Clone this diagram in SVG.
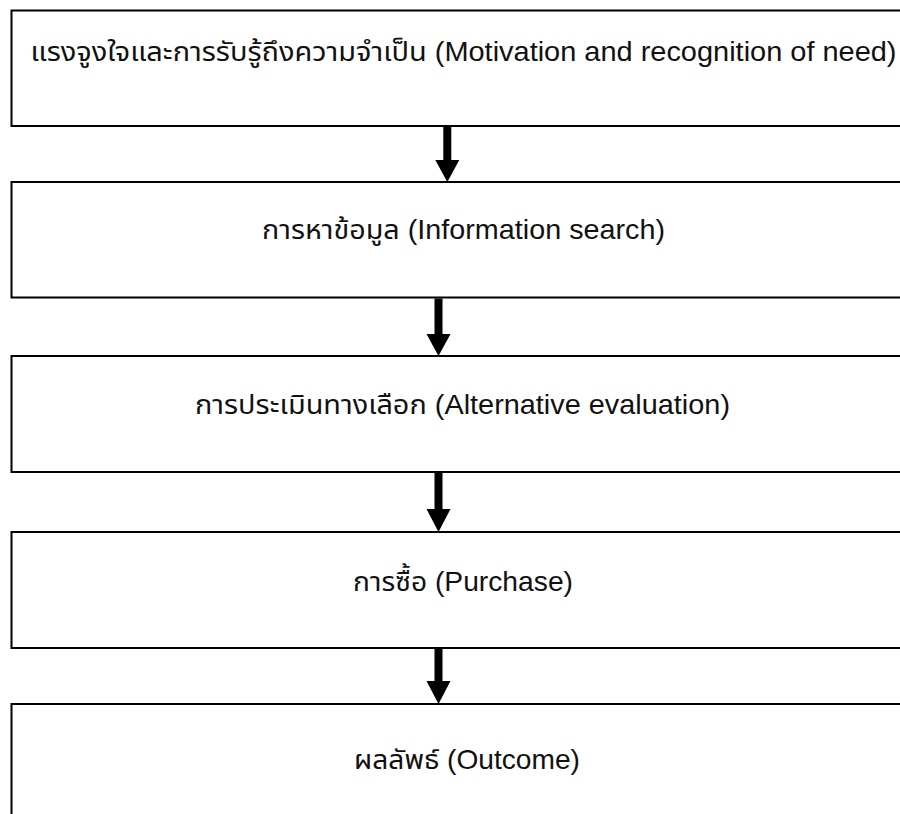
<svg xmlns="http://www.w3.org/2000/svg" width="900" height="814" viewBox="0 0 900 814">
<style>
.box{fill:#fff;stroke:#000;stroke-width:2}
.lbl{font-family:"Liberation Sans","Noto Sans","Noto Sans Thai",sans-serif;font-size:27.5px;fill:#111;text-anchor:middle}
.arr{fill:#000;stroke:none}
</style>
<rect width="900" height="814" fill="#fff"/>
<g id="node1"><rect class="box" x="11.5" y="10.5" width="910" height="115.5"/><text class="lbl" x="463.5" y="61" textLength="866" lengthAdjust="spacingAndGlyphs">แรงจูงใจและการรับรู้ถึงความจำเป็น (Motivation and recognition of need)</text></g>
<g id="node2"><rect class="box" x="11.5" y="182" width="910" height="115.5"/><text class="lbl" x="463.5" y="238.5" textLength="403" lengthAdjust="spacingAndGlyphs">การหาข้อมูล (Information search)</text></g>
<g id="node3"><rect class="box" x="11.5" y="356" width="910" height="116"/><text class="lbl" x="462.5" y="413.5" textLength="535" lengthAdjust="spacingAndGlyphs">การประเมินทางเลือก (Alternative evaluation)</text></g>
<g id="node4"><rect class="box" x="11.5" y="532" width="910" height="116"/><text class="lbl" x="463" y="591" textLength="220" lengthAdjust="spacingAndGlyphs">การซื้อ (Purchase)</text></g>
<g id="node5"><rect class="box" x="11.5" y="704" width="910" height="116"/><text class="lbl" x="467" y="769" textLength="226" lengthAdjust="spacingAndGlyphs">ผลลัพธ์ (Outcome)</text></g>
<g id="connectors">
<path class="arr" d="M443.3 127 H451.3 V160 H459.3 L447.3 182 L435.3 160 H443.3 Z"/>
<path class="arr" d="M434.5 298.5 H442.5 V334 H450.5 L438.5 356 L426.5 334 H434.5 Z"/>
<path class="arr" d="M434.5 473 H442.5 V509 H450.5 L438.5 532 L426.5 509 H434.5 Z"/>
<path class="arr" d="M434.5 649 H442.5 V681 H450.5 L438.5 704 L426.5 681 H434.5 Z"/>
</g>
</svg>
